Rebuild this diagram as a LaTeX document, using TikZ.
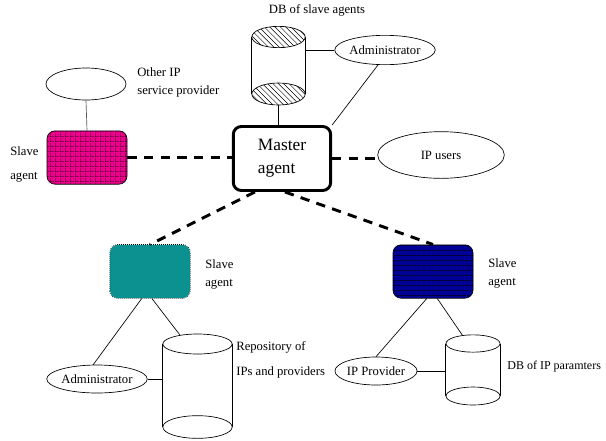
\documentclass[tikz,border=0pt]{standalone}
\usepackage{fontspec}
\setmainfont{Liberation Serif}
\usetikzlibrary{shapes.geometric,patterns,patterns.meta}
\tikzdeclarepattern{name=meshgrid,type=uncolored,bounding box={(0,0) and (3.4pt,3.4pt)},tile size={(3.4pt,3.4pt)},
  code={\draw[line width=.5pt] (0,0) -- (3.4pt,0) (0,0) -- (0,3.4pt);}}
\tikzdeclarepattern{name=widehatch,type=uncolored,bounding box={(-.5pt,-.5pt) and (4.5pt,4.5pt)},tile size={(4pt,4pt)},
  code={\draw[line width=.35pt] (0,4pt) -- (4pt,0);}}
\tikzdeclarepattern{name=stripes,type=uncolored,bounding box={(0,0) and (3.5pt,3.5pt)},tile size={(3.5pt,3.5pt)},
  code={\draw[line width=.8pt] (0,0) -- (3.5pt,0);}}
\tikzset{
  agentbox/.style={draw,rounded corners=6pt,minimum width=60pt,minimum height=40pt,inner sep=0pt},
  oval/.style={draw,ellipse,inner sep=0pt,fill=white,font=\fontsize{9.5}{11}\selectfont},
  disc/.style={draw,ellipse,inner sep=0pt,fill=white,minimum height=15pt},
  lab/.style={font=\fontsize{9.5}{11}\selectfont,align=left,inner sep=0pt},
  link/.style={line width=.5pt},
  remote/.style={line width=2.2pt,dash pattern=on 7pt off 5.5pt}
}
\begin{document}
\begin{tikzpicture}[x=0.75pt,y=-0.75pt,line width=.5pt] % ------ master and slave agents ------
    \useasboundingbox (0,0) rectangle (606,440);
    % master agent
    \node [agentbox,line width=2.2pt,minimum width=73pt,minimum height=48pt,align=left,
           font=\fontsize{13}{17}\selectfont] (master) at (282,158.5) {Master\\agent};
    % slave agents
    \node [agentbox,fill=magenta,postaction={pattern=meshgrid,pattern color=black}] (slaveL) at (87,157.5) {};
    \node [agentbox,draw=none,fill={rgb,255:red,0;green,150;blue,150},
           postaction={pattern=crosshatch dots,pattern color=black!60}] (slaveT) at (150,271.5) {};
    \draw [densely dotted,rounded corners=6pt] (slaveT.south west) rectangle (slaveT.north east);
    \node [agentbox,fill={rgb,255:red,0;green,0;blue,150},
           postaction={pattern=stripes,pattern color=black}] (slaveN) at (433,271.5) {};
    \node [lab,anchor=west,font=\fontsize{9.5}{18}\selectfont] (labL) at (10,164) {Slave\\agent};
    \node [lab,anchor=west,font=\fontsize{9.5}{13.5}\selectfont] (labT) at (205,274) {Slave\\agent};
    \node [lab,anchor=west,font=\fontsize{9.5}{13.5}\selectfont] (labN) at (488,273.5) {Slave\\agent};
    % ellipses
    \node [oval,minimum width=60pt,minimum height=24pt] (otherip) at (86,84) {};
    \node [lab,anchor=west,font=\fontsize{9.5}{14}\selectfont] (labO) at (137,82.5) {Other IP\\service provider};
    \node [oval,minimum width=95pt,minimum height=35pt] (ipusers) at (441,155) {IP users};
    \node [oval,minimum width=58pt,minimum height=22pt] (adminT) at (385,50) {Administrator};
    \node [oval,minimum width=60pt,minimum height=21pt] (adminB) at (97,379) {Administrator};
    \node [oval,minimum width=58pt,minimum height=21pt] (ipprov) at (376,371) {IP Provider};
    % DB of slave agents
    \node [disc,minimum width=40pt,minimum height=16pt,postaction={pattern=widehatch}] (dbsT) at (278.5,37) {};
    \node [disc,minimum width=40pt,minimum height=16.5pt,postaction={pattern=widehatch}] (dbsB) at (278.5,94) {};
    \draw (dbsT.west) -- (dbsB.west);
    \draw (dbsT.east) -- (dbsB.east);
    \node [lab] (labD) at (317,10) {DB of slave agents};
    % repository
    \node [disc,minimum width=52pt,minimum height=15pt] (repoT) at (197.5,344) {};
    \node [disc,minimum width=52pt,minimum height=17pt] (repoB) at (197.5,427) {};
    \draw (repoT.west) -- (repoB.west);
    \draw (repoT.east) -- (repoB.east);
    \node [lab,anchor=west,font=\fontsize{9.5}{18.75}\selectfont] (labR) at (236,359.5) {Repository of\\IPs and providers};
    % DB of IP parameters
    \node [disc,minimum width=40.5pt,minimum height=13pt] (dbipT) at (473,343.5) {};
    \node [disc,minimum width=40.5pt,minimum height=13.5pt] (dbipB) at (473,396) {};
    \draw (dbipT.west) -- (dbipB.west);
    \draw (dbipT.east) -- (dbipB.east);
    \node [lab,anchor=west,font=\fontsize{9}{11}\selectfont] (labP) at (507,367) {DB of IP paramters};
    % links
    \draw [gray!70!black] (otherip.south) -- (slaveL.north);
    \draw (dbsB.south) -- (dbsB.south |- master.north);
    \draw (adminT.west) -- (adminT.west -| dbsT.east);
    \draw (adminT.245) -- (master.north east);
    \draw (slaveT.253) -- (adminB.105);
    \draw (slaveT.274) -- (repoT.153);
    \draw (adminB.east) -- (adminB.east -| repoT.west);
    \draw (slaveN.257) -- (ipprov.north);
    \draw (slaveN.279) -- (dbipT.142);
    \draw (ipprov.east) -- (ipprov.east -| dbipT.west);
    % dashed links to the master
    \draw [remote] (slaveL.east) -- (slaveL.east -| master.west);
    \draw [remote] (master.east) -- (master.east -| ipusers.west);
    \draw [remote] (master.231) -- (slaveT.north);
    \draw [remote] (master.275) -- (slaveN.north);
\end{tikzpicture}
\end{document}
